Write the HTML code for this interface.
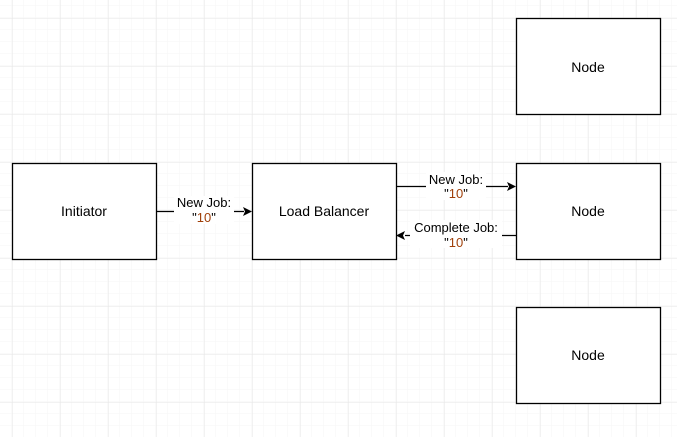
<!DOCTYPE html>
<html><head><meta charset="utf-8"><style>
html,body{margin:0;padding:0;background:#fff;}
body{width:677px;height:437px;overflow:hidden;position:relative;font-family:"Liberation Sans",Arial,sans-serif;}
</style></head><body>
<svg width="677" height="437" xmlns="http://www.w3.org/2000/svg" style="position:absolute;left:0;top:0">
<defs>
<pattern id="minor" width="12" height="12" patternUnits="userSpaceOnUse" x="0" y="6">
<path d="M12 0V12M0 12H12" fill="none" stroke="#f5f5f5" stroke-width="1"/>
</pattern>
<pattern id="major" width="48" height="48" patternUnits="userSpaceOnUse" x="12.5" y="18.5">
<path d="M0 0V48M0 0H48" fill="none" stroke="#e6e6e6" stroke-width="1"/>
</pattern>
</defs>
<rect width="677" height="437" fill="#fff"/>
<rect width="677" height="437" fill="url(#minor)"/>
<rect width="677" height="437" fill="url(#major)"/>
<g fill="#fff" stroke="#000" stroke-width="1.3">
<rect x="12.5" y="163.5" width="144" height="96"/>
<rect x="252.5" y="163.5" width="144" height="96"/>
<rect x="516.5" y="18.5" width="144" height="96"/>
<rect x="516.5" y="163.5" width="144" height="96"/>
<rect x="516.5" y="307.5" width="144" height="96"/>
</g>
<g font-size="14" text-anchor="middle" fill="#000">
<text x="84" y="216">Initiator</text>
<text x="324" y="216">Load Balancer</text>
<text x="588" y="72">Node</text>
<text x="588" y="216">Node</text>
<text x="588" y="360">Node</text>
</g>
<g stroke="#000" stroke-width="1.3" fill="none">
<path d="M157 211.5H244"/>
<path d="M397 186.5H508"/>
<path d="M516 235.5H405"/>
</g>
<g fill="#000">
<path d="M252 211.5L243 207L245 211.5L243 216Z"/>
<path d="M516 186.5L507 182L509 186.5L507 191Z"/>
<path d="M396 235.5L405 231L403 235.5L405 240Z"/>
</g>
<g font-size="13" text-anchor="middle">
<rect x="174" y="196" width="60" height="28" fill="#fff"/>
<text x="204" y="207" fill="#000">New Job:</text>
<text x="204" y="222" fill="#000">"<tspan fill="#a0400a">10</tspan>"</text>
<rect x="426" y="172" width="60" height="28" fill="#fff"/>
<text x="456" y="184" fill="#000">New Job:</text>
<text x="456" y="198" fill="#000">"<tspan fill="#a0400a">10</tspan>"</text>
<rect x="410" y="220" width="92" height="28" fill="#fff"/>
<text x="456" y="232" fill="#000">Complete Job:</text>
<text x="456" y="247" fill="#000">"<tspan fill="#a0400a">10</tspan>"</text>
</g>
</svg>
</body></html>
